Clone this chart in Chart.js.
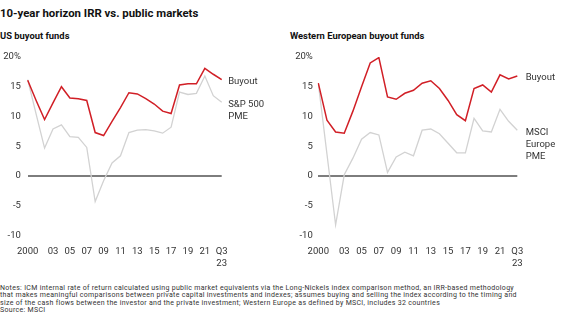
<!DOCTYPE html>
<html>
<head>
<meta charset="utf-8">
<script src="https://cdn.jsdelivr.net/npm/chart.js@4.4.0/dist/chart.umd.min.js"></script>
<style>
  body { margin: 0; background: #fff; font-family: Roboto, sans-serif; color: #222; }
  #page { position: relative; width: 562px; height: 328px; overflow: hidden; }
  .title { position: absolute; left: 0; top: 6px; font-size: 11.4px; font-weight: 700; color: #111; white-space: nowrap; }
  .sub { position: absolute; top: 30px; font-size: 9.4px; font-weight: 700; color: #111; white-space: nowrap; }
  .box { position: absolute; top: 41.5px; width: 281px; height: 240px; }
  .notes { position: absolute; left: 0; top: 284.5px; font-size: 7px; letter-spacing: 0.3px; line-height: 7.6px; color: #333; white-space: nowrap; }
</style>
</head>
<body>
<div id="page">
  <div class="title">10-year horizon IRR vs. public markets</div>
  <div class="sub" style="left:0">US buyout funds</div>
  <div class="sub" style="left:290px">Western European buyout funds</div>
  <div class="box" style="left:0"><canvas id="usChart"></canvas></div>
  <div class="box" style="left:281px"><canvas id="euChart"></canvas></div>
  <div class="notes">Notes: ICM internal rate of return calculated using public market equivalents via the Long-Nickels index comparison method, an IRR-based methodology<br>that makes meaningful comparisons between private capital investments and indexes; assumes buying and selling the index according to the timing and<br>size of the cash flows between the investor and the private investment; Western Europe as defined by MSCI, includes 32 countries<br>Source: MSCI</div>
</div>
<script>
const years = ['2000', '01', '02', '03', '04', '05', '06', '07', '08', '09', '10', '11',
  '12', '13', '14', '15', '16', '17', '18', '19', '20', '21', '22', 'Q3 23'];
const shownYears = ['2000', '03', '05', '07', '09', '11', '13', '15', '17', '19', '21', 'Q3 23'];

const usBuyout = [16.1, 12.7, 9.5, 12.3, 15.0, 13.1, 13.0, 12.7, 7.3, 6.8, 9.2, 11.5,
  14.0, 13.8, 13.0, 12.1, 10.9, 10.5, 15.3, 15.5, 15.5, 18.1, 17.1, 16.2];
const usPme = [16.2, 10.4, 4.7, 7.9, 8.6, 6.6, 6.5, 4.8, -4.3, -0.8, 2.2, 3.4,
  7.3, 7.7, 7.8, 7.6, 7.2, 8.2, 14.1, 13.7, 13.9, 16.8, 13.5, 12.4];

const euBuyout = [15.6, 9.4, 7.4, 7.2, 10.9, 15.0, 19.0, 19.9, 13.3, 12.9, 13.9, 14.4,
  15.6, 16.0, 14.7, 12.7, 10.3, 9.3, 14.7, 15.3, 14.1, 17.0, 16.3, 16.8];
const euPme = [15.6, 3.7, -8.2, 0.2, 3.0, 6.2, 7.3, 6.9, 0.6, 3.2, 4.0, 3.4,
  7.7, 7.9, 7.1, 5.5, 3.9, 3.9, 9.7, 7.6, 7.4, 11.2, 9.2, 7.7];

const yMin = -10, yMax = 20, yStep = 5;

const RED = '#d11f26';
const GREY = '#d2d2d2';
const TEXT = '#333';
const FONT = 'Roboto';

// writes the series name next to the last point of each line
const endLabels = {
  id: 'endLabels',
  afterDatasetsDraw(chart) {
    const ctx = chart.ctx;
    ctx.save();
    ctx.font = '9.5px ' + FONT;
    ctx.fillStyle = TEXT;
    ctx.textBaseline = 'middle';
    ctx.textAlign = 'left';
    chart.data.datasets.forEach((ds, i) => {
      const pts = chart.getDatasetMeta(i).data;
      const last = pts[pts.length - 1];
      ds.endLabel.forEach((line, j) => {
        ctx.fillText(line, last.x + chart.options.labelGap, last.y + 2 + j * 12.3);
      });
    });
    ctx.restore();
  }
};

function makeChart(id, buyout, pme, pmeName, axisWidth, tickPad, rightPad, labelGap) {
  return new Chart(document.getElementById(id), {
    type: 'line',
    data: {
      labels: years,
      datasets: [
        { data: buyout, borderColor: RED, borderWidth: 1.5, endLabel: ['Buyout'] },
        { data: pme, borderColor: GREY, borderWidth: 1.3, endLabel: pmeName }
      ]
    },
    options: {
      responsive: true,
      maintainAspectRatio: false,
      animation: false,
      labelGap: labelGap,
      layout: { padding: { top: 15, right: rightPad, left: 0, bottom: 0 } },
      elements: { point: { radius: 0 }, line: { tension: 0 } },
      plugins: { legend: { display: false }, tooltip: { enabled: false } },
      scales: {
        x: {
          offset: false,
          grid: { display: false, drawTicks: false },
          border: { display: false },
          afterFit: (s) => { s.height = 46.5; },
          ticks: {
            autoSkip: false,
            maxRotation: 0,
            padding: 11,
            color: TEXT,
            font: { family: FONT, size: 9.5, lineHeight: 1.18 },
            callback: function (v, i) {
              const lab = years[i];
              if (!shownYears.includes(lab)) return null;
              return lab.includes(' ') ? lab.split(' ') : lab;
            }
          }
        },
        y: {
          min: yMin,
          max: yMax,
          afterFit: (s) => { s.width = axisWidth; },
          grid: {
            drawTicks: false,
            color: (c) => c.tick && c.tick.value === 0 ? '#7d7d7d' : 'rgba(0,0,0,0)',
            lineWidth: 2
          },
          border: { display: false },
          ticks: {
            stepSize: yStep,
            padding: tickPad,
            color: TEXT,
            font: { family: FONT, size: 9.5 },
            callback: (v) => v === yMax ? v + '%' : v
          }
        }
      }
    },
    plugins: [endLabels]
  });
}

makeChart('usChart', usBuyout, usPme, ['S&P 500', 'PME'], 27.7, 6.8, 59.3, 6.5);
makeChart('euChart', euBuyout, euPme, ['MSCI', 'Europe', 'PME'], 37.3, 5.5, 44.7, 8.4);
</script>
</body>
</html>
